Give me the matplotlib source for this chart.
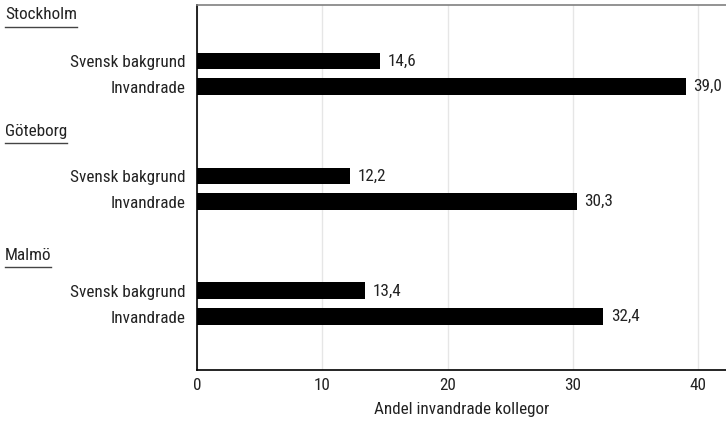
import matplotlib
matplotlib.use("Agg")
import matplotlib.pyplot as plt
from matplotlib.lines import Line2D
from matplotlib.transforms import blended_transform_factory

cities = ["Stockholm", "Göteborg", "Malmö"]
groups = ["Svensk bakgrund", "Invandrade"]
svensk = [14.6, 12.2, 13.4]
invandrade = [39.0, 30.3, 32.4]
xticks = [0, 10, 20, 30, 40]
xlabel = "Andel invandrade kollegor"

plt.rcParams["font.family"] = ["Roboto Condensed", "DejaVu Sans"]
FS = 12.3
TXT = "#222222"

W, H = 726, 426
fig = plt.figure(figsize=(W / 100, H / 100), dpi=100)
ax = fig.add_axes([197 / W, 1 - 370 / H, 1 - 197 / W, (370 - 5) / H])

gstep = 4.46
ys_sv = [g * gstep for g in range(3)]
ys_in = [y + 1 for y in ys_sv]
hdr_off = [-1.62, -1.55, -1.2]

ax.barh(ys_sv, svensk, height=0.65, color="black", zorder=3)
ax.barh(ys_in, invandrade, height=0.65, color="black", zorder=3)
for y, v in list(zip(ys_sv, svensk)) + list(zip(ys_in, invandrade)):
    ax.text(v + 0.6, y, f"{v:.1f}".replace(".", ","), va="center", ha="left",
            fontsize=FS, color=TXT, zorder=4)

ax.set_ylim(ys_in[-1] + 2.07, ys_sv[0] - 2.17)
ax.set_xlim(0, 42.2)
ax.set_yticks(ys_sv + ys_in)
ax.set_yticklabels([groups[0]] * 3 + [groups[1]] * 3, fontsize=FS, color=TXT)
ax.set_xticks(xticks)
ax.set_xticklabels([str(t) for t in xticks], fontsize=FS, color=TXT)
ax.tick_params(axis="x", length=0, pad=6)
ax.tick_params(axis="y", length=0, pad=8)
ax.set_xlabel(xlabel, fontsize=FS, color=TXT, labelpad=6)
ax.grid(axis="x", color="#e6e6e6", linewidth=1, zorder=0)
ax.grid(axis="y", visible=False)
for s in ["left", "bottom"]:
    ax.spines[s].set_color("black")
    ax.spines[s].set_linewidth(1.2)
ax.spines["top"].set_color("#808080")
ax.spines["top"].set_linewidth(1.2)
ax.spines["right"].set_visible(False)

# group headers (underlined), left-aligned at figure left
trans = blended_transform_factory(fig.transFigure, ax.transData)
fig.canvas.draw()
r = fig.canvas.get_renderer()
for c, y0, off in zip(cities, ys_sv, hdr_off):
    t = ax.text(5 / W, y0 + off, c, ha="left", va="baseline", fontsize=FS, color=TXT,
                transform=trans, clip_on=False)
    bb = t.get_window_extent(renderer=r)
    ybase = ax.transData.transform((0, y0 + off))[1]
    yl = (ybase - 7.5) / H
    fig.add_artist(Line2D([bb.x0 / W, bb.x1 / W], [yl, yl], color="#444444", linewidth=1.0,
                          transform=fig.transFigure))

fig.savefig("out.png", dpi=100)
